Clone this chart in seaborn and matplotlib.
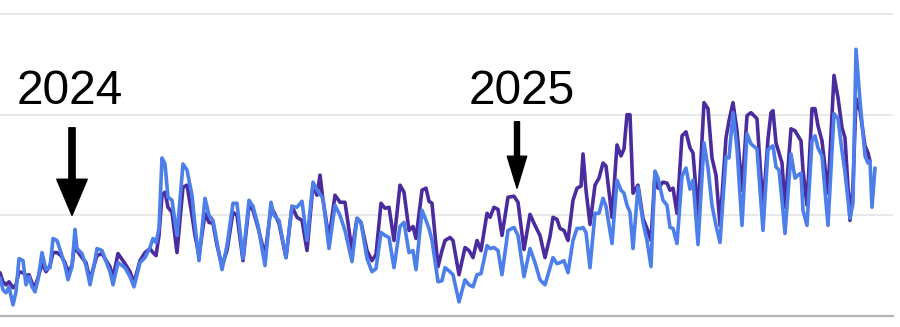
import matplotlib
matplotlib.use("Agg")
import matplotlib.pyplot as plt
import seaborn as sns
import pandas as pd
import numpy as np

# time index (arbitrary units along the x axis)
t = [0, 3, 6, 9, 13, 16, 19, 23, 26, 29, 32, 35, 38, 42, 46, 50, 53, 57, 61, 65,
     68, 72, 75, 77, 82, 86, 90, 94, 97, 102, 105, 110, 113, 118, 125, 130, 134, 140, 145, 150,
     153, 156, 159, 162, 165, 168, 172, 177, 183, 187, 192, 195, 199, 205, 209, 213, 217, 222, 227, 233,
     237, 243, 249, 253, 258, 265, 271, 274, 279, 286, 292, 297, 302, 307, 313, 317, 320, 323, 329, 335,
     340, 345, 352, 357, 361, 367, 372, 376, 381, 385, 389, 394, 400, 404, 409, 413, 416, 422, 426, 429,
     432, 438, 442, 445, 450, 453, 459, 465, 469, 473, 477, 481, 487, 490, 494, 498, 502, 508, 514, 518,
     524, 530, 535, 540, 545, 550, 553, 557, 560, 564, 568, 573, 577, 581, 583, 586, 590, 595, 599, 603,
     606, 612, 617, 621, 624, 627, 630, 633, 638, 643, 647, 651, 655, 658, 663, 667, 670, 673, 677, 682,
     686, 690, 693, 698, 704, 708, 712, 716, 720, 726, 729, 733, 737, 742, 747, 751, 757, 763, 768, 771,
     773, 776, 779, 782, 785, 791, 795, 798, 801, 803, 807, 812, 815, 818, 822, 828, 834, 838, 842, 845,
     850, 853, 856, 860, 865, 868, 870, 872, 875]

series_blue = [38, 26, 23, 29, 11, 24, 57, 55, 31, 39, 29, 24, 36, 63, 46, 48, 77, 75, 63, 50,
               36, 49, 86, 67, 62, 50, 31, 50, 67, 65, 57, 44, 31, 53, 48, 39, 29, 53, 58, 68,
               77, 73, 87, 157, 151, 118, 115, 80, 151, 145, 120, 90, 55, 117, 100, 95, 73, 46, 70, 112,
               112, 57, 115, 109, 90, 50, 113, 100, 95, 58, 109, 108, 114, 75, 133, 125, 121, 117, 67, 110,
               100, 85, 54, 97, 93, 57, 44, 47, 83, 80, 78, 48, 89, 93, 63, 65, 46, 105, 95, 87,
               75, 34, 35, 48, 44, 41, 14, 36, 31, 29, 41, 42, 70, 67, 68, 65, 41, 85, 88, 80,
               39, 67, 53, 36, 31, 48, 58, 52, 53, 55, 43, 75, 87, 87, 88, 83, 48, 102, 102, 117,
               109, 72, 135, 125, 122, 110, 103, 67, 128, 93, 75, 49, 144, 137, 115, 110, 88, 87, 72, 139,
               147, 126, 135, 71, 172, 147, 110, 90, 73, 158, 157, 202, 166, 90, 181, 171, 166, 85, 165, 168,
               169, 148, 145, 115, 82, 161, 137, 140, 142, 105, 90, 174, 179, 167, 159, 90, 201, 196, 164, 143,
               97, 112, 265, 214, 159, 152, 154, 108, 147]

series_purple = [43, 34, 31, 34, 28, 31, 44, 43, 40, 41, 33, 29, 38, 52, 44, 50, 63, 63, 60, 53,
                 44, 50, 75, 65, 58, 53, 36, 50, 60, 62, 57, 49, 38, 62, 52, 44, 33, 55, 63, 67,
                 63, 60, 80, 120, 123, 108, 103, 63, 128, 130, 100, 80, 60, 102, 93, 92, 70, 50, 65, 103,
                 100, 55, 110, 105, 88, 60, 108, 103, 92, 58, 109, 98, 95, 65, 130, 120, 140, 115, 77, 120,
                 113, 113, 65, 97, 93, 65, 55, 61, 112, 107, 108, 75, 130, 123, 85, 89, 77, 125, 127, 114,
                 112, 49, 65, 75, 78, 75, 41, 68, 65, 58, 75, 65, 102, 98, 108, 106, 80, 118, 119, 113,
                 66, 101, 90, 80, 58, 79, 98, 96, 87, 85, 75, 115, 127, 129, 161, 125, 91, 130, 137, 152,
                 149, 98, 170, 159, 166, 200, 200, 122, 130, 97, 87, 75, 142, 127, 133, 132, 125, 127, 102, 179,
                 183, 167, 162, 100, 212, 206, 157, 140, 90, 177, 194, 212, 184, 125, 199, 202, 196, 107, 176, 202,
                 204, 172, 162, 152, 108, 186, 184, 179, 174, 145, 110, 206, 206, 189, 174, 122, 239, 217, 187, 177,
                 95, 130, 216, 204, 169, 162, 154, np.nan, np.nan]

series_names = ["Series A", "Series B"]
series_colors = ["#4B2C9F", "#4D7FEA"]

year_labels = ["2024", "2025"]
year_pos = [72, 517]

df = pd.concat([
    pd.DataFrame({"t": t, "value": series_purple, "series": series_names[0]}),
    pd.DataFrame({"t": t, "value": series_blue, "series": series_names[1]}),
], ignore_index=True)

sns.set_theme(style="white")
plt.rcParams["font.family"] = ["Liberation Sans", "DejaVu Sans"]

fig = plt.figure(figsize=(9, 3.27), dpi=100)
ax = fig.add_axes([0, 11 / 327, 893 / 900, 308 / 327])

sns.lineplot(data=df, x="t", y="value", hue="series", hue_order=series_names,
             palette=series_colors, estimator=None, sort=False, linewidth=2.6,
             legend=False, ax=ax)

ax.set_xlim(0, 893)
ax.set_ylim(0, 306)
ax.set_yticks([100, 200, 300])
ax.yaxis.grid(True, color="#e8e8e8", linewidth=1.4)
ax.xaxis.grid(False)
ax.set_axisbelow(True)
ax.tick_params(left=False, bottom=False, labelleft=False, labelbottom=False)
ax.set_xlabel("")
ax.set_ylabel("")
for s in ["top", "left", "right"]:
    ax.spines[s].set_visible(False)
ax.spines["bottom"].set_color("#b3b3b3")
ax.spines["bottom"].set_linewidth(1.6)

# year annotations
arrow_specs = [
    dict(tip=100, tail=187, text_x=70, style="simple,head_length=2.6,head_width=2.2,tail_width=0.45"),
    dict(tip=127, tail=193, text_x=522, style="simple,head_length=2.3,head_width=1.4,tail_width=0.36"),
]
for lab, xp, spec in zip(year_labels, year_pos, arrow_specs):
    ax.annotate("", xy=(xp, spec["tip"]), xytext=(xp, spec["tail"]),
                arrowprops=dict(arrowstyle=spec["style"], color="black",
                                shrinkA=0, shrinkB=0, mutation_scale=10))
    ax.text(spec["text_x"], 211, lab, ha="center", va="baseline",
            fontsize=34.5, color="black")

fig.savefig("out.png", dpi=100)
